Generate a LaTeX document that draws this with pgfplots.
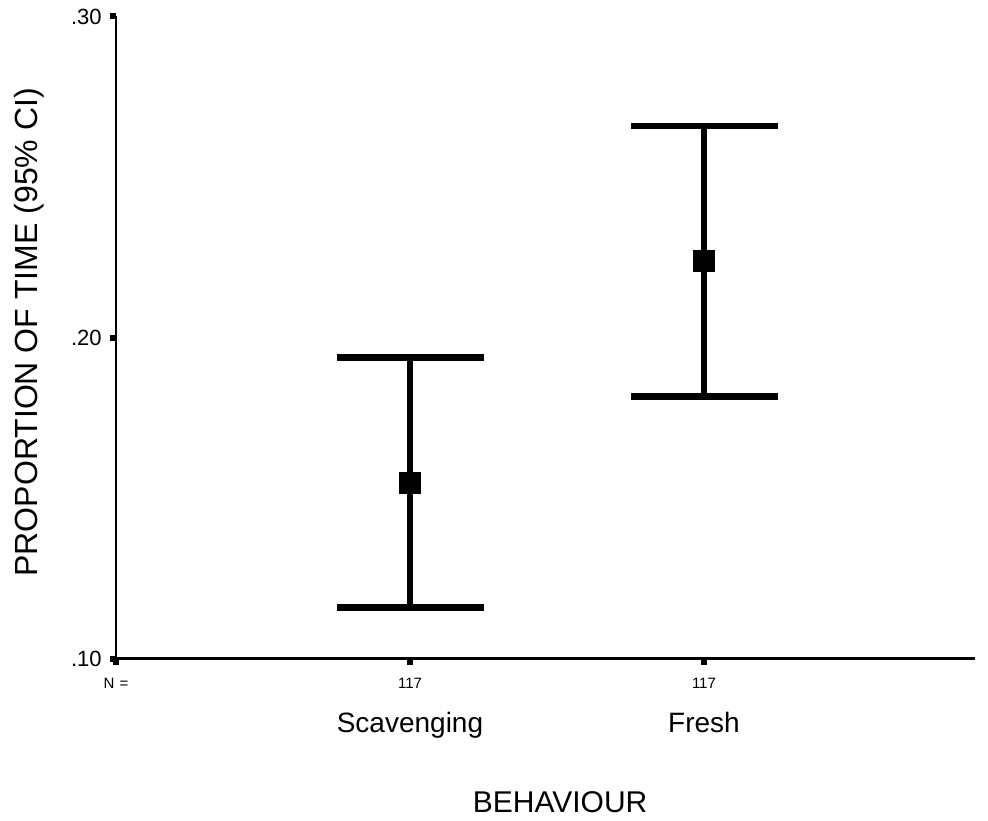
\documentclass[border=0pt]{standalone}
\usepackage{fontspec}
\setmainfont{Liberation Sans}
\usepackage{pgfplots}
\pgfplotsset{compat=1.18}
\begin{document}
\begin{tikzpicture}
\path[use as bounding box] (-58pt,-80.75pt) rectangle (436pt,329.25pt);
\begin{axis}[
  at={(0,0)}, anchor=south west,
  scale only axis, width=429.5pt, height=321pt,
  xmin=0, xmax=2.922, ymin=0.1, ymax=0.3,
  axis lines=left, axis line style={-, line width=1.1pt, black},
  xtick={0,1,2}, xticklabels={N\,\,=,117,117},
  ytick={0.1,0.2,0.3}, yticklabels={.10,.20,.30},
  tick align=outside, major tick length=3pt,
  tick style={line width=3pt, black},
  /pgf/number format/assume math mode=true,
  x tick label style={font=\fontsize{7.5}{9}\selectfont, anchor=base, yshift=-11.75pt, inner sep=0pt},
  y tick label style={font=\fontsize{11}{13}\selectfont, anchor=east, inner sep=0pt, xshift=-4pt},
  extra x ticks={1,2}, extra x tick labels={Scavenging,Fresh},
  extra x tick style={major tick length=0pt, tick style={line width=0pt},
    x tick label style={font=\fontsize{14}{16}\selectfont, yshift=-25pt}},
  xlabel={BEHAVIOUR}, ylabel={PROPORTION OF TIME (95\% CI)},
  xlabel style={at={(axis description cs:0.517,-0.2235)}, anchor=center, font=\fontsize{15}{18}\selectfont},
  ylabel style={at={(axis description cs:-0.1013,0.508)}, anchor=center, font=\fontsize{16}{19}\selectfont},
  clip=false,
]
% Scavenging: mean 0.1548, CI 0.1158 - 0.1937
\addplot[black, line width=3pt] coordinates {(1,0.1158) (1,0.1937)};
\addplot[black, line width=3.3pt] coordinates {(0.752,0.1937) (1.252,0.1937)};
\addplot[black, line width=3.3pt] coordinates {(0.752,0.1158) (1.252,0.1158)};
% Fresh: mean 0.2239, CI 0.1816 - 0.2659
\addplot[black, line width=3pt] coordinates {(2,0.1816) (2,0.2659)};
\addplot[black, line width=3.3pt] coordinates {(1.752,0.2659) (2.252,0.2659)};
\addplot[black, line width=3.3pt] coordinates {(1.752,0.1816) (2.252,0.1816)};
% means
\addplot[only marks, mark=square*, mark size=5.15pt, mark options={black, fill=black, line width=0.3pt}] coordinates {(1,0.1548) (2,0.2239)};
\end{axis}
\end{tikzpicture}
\end{document}
